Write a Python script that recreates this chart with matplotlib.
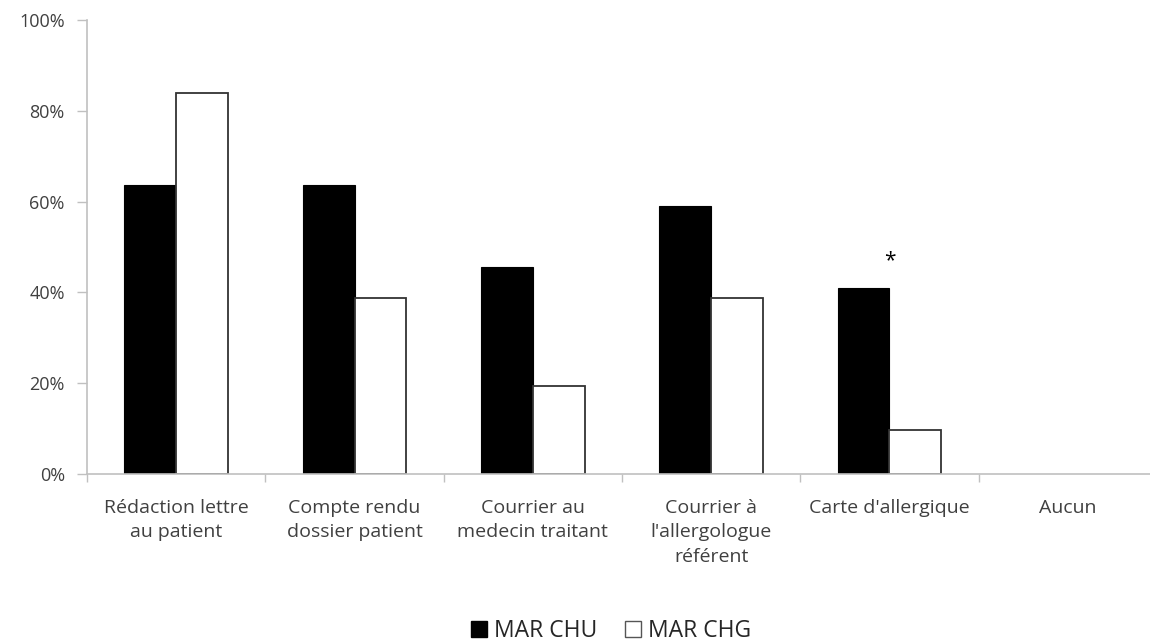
import numpy as np
import matplotlib
matplotlib.use("Agg")
import matplotlib.pyplot as plt
from matplotlib.patches import Patch

# Données : pourcentage de MAR par moyen de communication
categories = ["Rédaction lettre\nau patient", "Compte rendu\ndossier patient",
              "Courrier au\nmedecin traitant", "Courrier à\nl'allergologue\nréférent",
              "Carte d'allergique", "Aucun"]
chu = [63.6, 63.6, 45.5, 59.1, 40.9, 0.0]
chg = [83.9, 38.7, 19.4, 38.7, 9.7, 0.0]
yticks = [0, 20, 40, 60, 80, 100]
star_idx = 4

plt.rcParams['font.family'] = ['Open Sans', 'DejaVu Sans']
txt = '#404040'
axcol = '#c0c0c0'

fig = plt.figure(figsize=(11.5, 6.44), dpi=100)
# axes from x=87px to 1157px, y from 474px (0%) to 20px (100%)
ax = fig.add_axes([87/1150, (644-474)/644, 1070/1150, 454/644])

x = np.arange(len(categories))
w = 0.29
lw_chu = [0.8 if v > 0 else 0 for v in chu]
lw_chg = [1.3 if v > 0 else 0 for v in chg]
ax.bar(x - w/2, chu, w, color='black', edgecolor='black', linewidth=lw_chu, label='MAR CHU')
ax.bar(x + w/2, chg, w, color='white', edgecolor='#333333', linewidth=lw_chg, label='MAR CHG')

ax.text(x[star_idx], chu[star_idx] + 6, '*', ha='center', va='center',
        fontsize=15, color='black')

ax.set_xlim(-0.5, len(categories) - 0.5)
ax.set_ylim(0, 100)
ax.set_yticks(yticks)
ax.set_yticklabels([f"{v}%" for v in yticks], fontsize=13, color=txt)

ax.set_xticks(x)
ax.set_xticklabels(categories, fontsize=14, color=txt, linespacing=1.45, va='top')
ax.tick_params(axis='x', length=0, pad=18)
ax.set_xticks(np.arange(len(categories) + 1) - 0.5, minor=True)
ax.tick_params(axis='x', which='minor', length=6, color=axcol, width=1)
ax.tick_params(axis='y', length=7, color=axcol, width=1, pad=9)

for s in ['top', 'right']:
    ax.spines[s].set_visible(False)
for s in ['left', 'bottom']:
    ax.spines[s].set_color(axcol)
    ax.spines[s].set_linewidth(1.2)

handles = [Patch(facecolor='black', edgecolor='black', label='MAR CHU'),
           Patch(facecolor='white', edgecolor='#555555', label='MAR CHG')]
fig.legend(handles=handles, loc='center', bbox_to_anchor=(611/1150, 1 - 631/644),
           ncol=2, frameon=False, fontsize=16.5, handlelength=0.7, handleheight=0.7,
           handletextpad=0.3, columnspacing=1.2, labelcolor='#262626')

fig.savefig("out.png", dpi=100)
